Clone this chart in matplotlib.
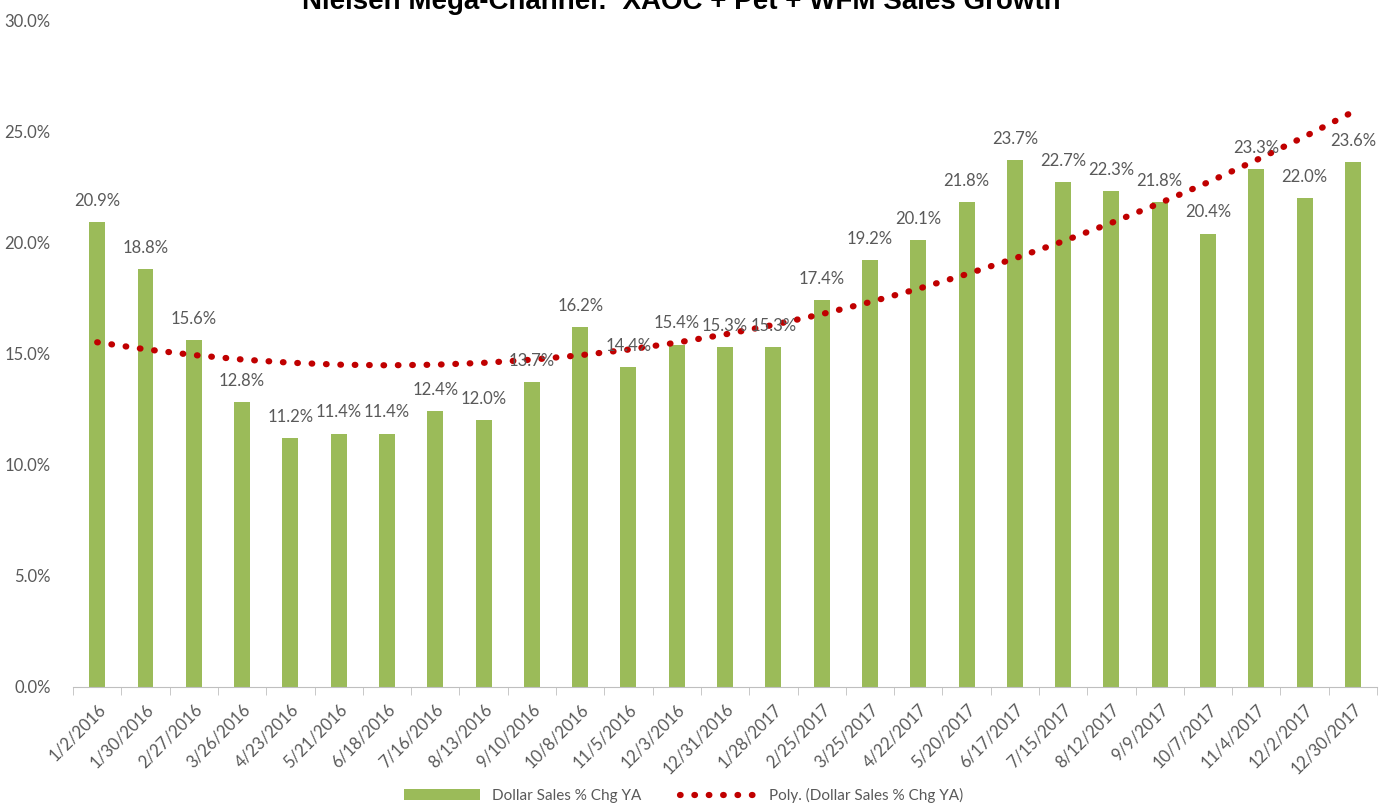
import numpy as np
import matplotlib.pyplot as plt
import matplotlib.transforms as mtransforms
from matplotlib.ticker import PercentFormatter

plt.rcParams['font.family'] = ['Lato', 'DejaVu Sans']

dates = ["1/2/2016", "1/30/2016", "2/27/2016", "3/26/2016", "4/23/2016", "5/21/2016",
         "6/18/2016", "7/16/2016", "8/13/2016", "9/10/2016", "10/8/2016", "11/5/2016",
         "12/3/2016", "12/31/2016", "1/28/2017", "2/25/2017", "3/25/2017", "4/22/2017",
         "5/20/2017", "6/17/2017", "7/15/2017", "8/12/2017", "9/9/2017", "10/7/2017",
         "11/4/2017", "12/2/2017", "12/30/2017"]
sales_chg = [20.9, 18.8, 15.6, 12.8, 11.2, 11.4, 11.4, 12.4, 12.0, 13.7, 16.2, 14.4,
             15.4, 15.3, 15.3, 17.4, 19.2, 20.1, 21.8, 23.7, 22.7, 22.3, 21.8, 20.4,
             23.3, 22.0, 23.6]

x = np.arange(len(dates))
# Excel polynomial trendline (order 2)
coef = np.polyfit(x + 1, sales_chg, 2)
trend = np.polyval(coef, x + 1)

fig = plt.figure(figsize=(13.91, 8.10), dpi=100)
ax = fig.add_axes([0.0525, 0.152, 0.9375, 0.823])

green = '#9BBB59'
red = '#C00000'
gray = '#595959'

bars = ax.bar(x, sales_chg, width=0.33, color=green, label='Dollar Sales % Chg YA', zorder=2)
line, = ax.plot(x, trend, linestyle=(0, (0.1, 2.2)), color=red, linewidth=4.5,
                dash_capstyle='round', label='Poly. (Dollar Sales % Chg YA)', zorder=3)

for xi, v in zip(x, sales_chg):
    ax.text(xi, v + 0.6, f"{v:.1f}%", ha='center', va='bottom', fontsize=12, color=gray, zorder=4)

ax.set_xlim(-0.5, len(dates) - 0.5)
ax.set_ylim(0, 30)
ax.set_yticks(np.arange(0, 31, 5))
ax.yaxis.set_major_formatter(PercentFormatter(decimals=1))
ax.tick_params(axis='y', length=0, labelsize=12, labelcolor=gray, pad=16)

ax.set_xticks(x)
ax.set_xticklabels(dates, rotation=45, ha='right', rotation_mode='anchor', fontsize=12, color=gray)
shift = mtransforms.ScaledTranslation(0.14, 0, fig.dpi_scale_trans)
for lbl in ax.get_xticklabels():
    lbl.set_transform(lbl.get_transform() + shift)
ax.set_xticks(np.arange(-0.5, len(dates)), minor=True)
ax.tick_params(axis='x', which='major', length=0, pad=10)
ax.tick_params(axis='x', which='minor', length=6, color='#BFBFBF', direction='out')

for s in ['top', 'right', 'left']:
    ax.spines[s].set_visible(False)
ax.spines['bottom'].set_color('#BFBFBF')

fig.text(0.49, 0.998, "Nielsen Mega-Channel:  XAOC + Pet + WFM Sales Growth",
         ha='center', va='center', fontsize=20, fontweight='bold',
         family=['Liberation Sans', 'DejaVu Sans'])

ax.legend(handles=[bars, line], loc='center', bbox_to_anchor=(0.468, -0.163), ncol=2,
          frameon=False, fontsize=11, labelcolor=gray, handlelength=5, columnspacing=2.5)

fig.savefig('out.png', dpi=100)
